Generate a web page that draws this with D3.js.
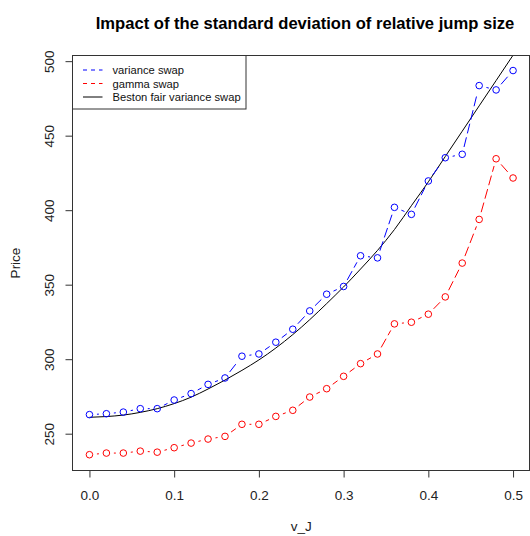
<!DOCTYPE html>
<meta charset="utf-8">
<body style="margin:0;background:#fff">
<svg width="530" height="536"></svg>
<script src="https://cdnjs.cloudflare.com/ajax/libs/d3/7.8.5/d3.min.js"></script>
<script>

// standard deviation of relative jump size
var vJ = [0, 0.02, 0.04, 0.06, 0.08, 0.10, 0.12, 0.14, 0.16, 0.18, 0.20, 0.22, 0.24,
          0.26, 0.28, 0.30, 0.32, 0.34, 0.36, 0.38, 0.40, 0.42, 0.44, 0.46, 0.48, 0.50];

var varianceSwap = [262.8, 263.4, 264.5, 266.8, 266.8, 272.6, 276.9, 283.1, 287.4, 302.0,
                    303.5, 311.4, 320.1, 332.4, 343.6, 348.8, 369.4, 368.0, 401.9, 397.2,
                    419.6, 435.2, 437.5, 483.6, 480.7, 493.7];

var gammaSwap = [235.9, 237.0, 237.0, 238.3, 237.6, 240.6, 243.7, 246.4, 248.2, 256.3,
                 256.3, 261.6, 265.7, 274.6, 280.2, 288.5, 297.0, 303.5, 323.7, 324.8,
                 330.2, 341.8, 364.5, 393.8, 434.5, 421.6];

var fairVariance = [261.0, 261.5, 262.5, 264.3, 266.8, 270.2, 274.5, 280.0, 286.0, 292.5,
                    299.5, 307.5, 316.5, 326.5, 337.3, 348.5, 360.5, 373.0, 387.0, 403.0,
                    419.0, 436.0, 453.0, 470.0, 487.0, 504.0];

var xTicks = [0, 0.1, 0.2, 0.3, 0.4, 0.5];
var yTicks = [250, 300, 350, 400, 450, 500];

var legendLabels = ["variance swap", "gamma swap", "Beston fair variance swap"];

var svg = d3.select("svg");
var font = "Liberation Sans, Arial, sans-serif";

var plotLeft = 72.5, plotRight = 530, plotTop = 55.5, plotBottom = 470.5;

var x = d3.scaleLinear().domain([-0.02, 0.52]).range([plotLeft, plotRight]);
var y = d3.scaleLinear().domain([225.3, 503.8]).range([plotBottom, plotTop]);

svg.append("defs").append("clipPath").attr("id", "plotClip")
  .append("rect")
  .attr("x", plotLeft).attr("y", plotTop)
  .attr("width", plotRight - plotLeft).attr("height", plotBottom - plotTop);

var plot = svg.append("g").attr("clip-path", "url(#plotClip)");

// fair variance curve
var fairLine = d3.line()
  .x((d, i) => x(vJ[i]))
  .y(d => y(d))
  .curve(d3.curveMonotoneX);

plot.append("path")
  .attr("d", fairLine(fairVariance))
  .attr("fill", "none")
  .attr("stroke", "#000")
  .attr("stroke-width", 1);

// points joined by dashed segments that stop short of each point
var gap = 7.5;
function drawSeries(values, color) {
  var pts = values.map((d, i) => [x(vJ[i]), y(d)]);
  var segs = [];
  for (var i = 0; i < pts.length - 1; i++) {
    var a = pts[i], b = pts[i + 1];
    var dx = b[0] - a[0], dy = b[1] - a[1];
    var len = Math.sqrt(dx * dx + dy * dy);
    if (len <= 2 * gap) continue;
    var ux = dx / len, uy = dy / len;
    segs.push([a[0] + ux * gap, a[1] + uy * gap, b[0] - ux * gap, b[1] - uy * gap]);
  }
  plot.selectAll(null).data(segs).enter().append("line")
    .attr("x1", d => d[0]).attr("y1", d => d[1])
    .attr("x2", d => d[2]).attr("y2", d => d[3])
    .attr("stroke", color)
    .attr("stroke-width", 1)
    .attr("stroke-dasharray", "10,4");
  plot.selectAll(null).data(pts).enter().append("circle")
    .attr("cx", d => d[0]).attr("cy", d => d[1])
    .attr("r", 3.3)
    .attr("fill", "none")
    .attr("stroke", color)
    .attr("stroke-width", 1);
}

drawSeries(varianceSwap, "#0000ff");
drawSeries(gammaSwap, "#ff0000");

// box round the plot region
svg.append("rect")
  .attr("x", plotLeft).attr("y", plotTop)
  .attr("width", plotRight - plotLeft - 0.5).attr("height", plotBottom - plotTop)
  .attr("fill", "none")
  .attr("stroke", "#333")
  .attr("stroke-width", 1);

// x axis
var xAxis = svg.append("g")
  .attr("transform", "translate(0," + plotBottom + ")")
  .call(d3.axisBottom(x).tickValues(xTicks).tickSize(7).tickFormat(d3.format(".1f")));
xAxis.select(".domain").remove();
xAxis.append("line")
  .attr("x1", x(xTicks[0])).attr("x2", x(xTicks[xTicks.length - 1]))
  .attr("stroke", "#333");
xAxis.selectAll(".tick line").attr("stroke", "#333");
xAxis.selectAll("text")
  .attr("y", 29.5).attr("dy", 0)
  .attr("fill", "#222")
  .style("font", "13.5px " + font);

// y axis
var yAxis = svg.append("g")
  .attr("transform", "translate(" + plotLeft + ",0)")
  .call(d3.axisLeft(y).tickValues(yTicks).tickSize(7));
yAxis.select(".domain").remove();
yAxis.append("line")
  .attr("y1", y(yTicks[0])).attr("y2", y(yTicks[yTicks.length - 1]))
  .attr("stroke", "#333");
yAxis.selectAll(".tick line").attr("stroke", "#333");
yAxis.selectAll("text")
  .attr("x", 0).attr("dy", 0)
  .attr("text-anchor", "middle")
  .attr("transform", "translate(-19,0) rotate(-90)")
  .attr("fill", "#222")
  .style("font", "13.5px " + font);

// titles
svg.append("text")
  .attr("x", 305).attr("y", 28.5)
  .attr("text-anchor", "middle")
  .style("font", "bold 16.6px " + font)
  .attr("fill", "#000")
  .text("Impact of the standard deviation of relative jump size");

svg.append("text")
  .attr("x", (plotLeft + plotRight) / 2).attr("y", 531)
  .attr("text-anchor", "middle")
  .style("font", "13.5px " + font)
  .attr("fill", "#222")
  .text("v_J");

svg.append("text")
  .attr("transform", "translate(20," + ((plotTop + plotBottom) / 2) + ") rotate(-90)")
  .attr("text-anchor", "middle")
  .style("font", "13.5px " + font)
  .attr("fill", "#222")
  .text("Price");

// legend
var legend = svg.append("g");
legend.append("rect")
  .attr("x", plotLeft).attr("y", plotTop)
  .attr("width", 173.5).attr("height", 53.5)
  .attr("fill", "#fff")
  .attr("stroke", "#333");

var legendColors = ["#0000ff", "#ff0000", "#000"];
var legendDash = ["4,4", "4,4", null];
legendLabels.forEach(function(label, i) {
  var ly = 70 + i * 13.5;
  legend.append("line")
    .attr("x1", 83).attr("x2", 102.5)
    .attr("y1", ly).attr("y2", ly)
    .attr("stroke", legendColors[i])
    .attr("stroke-dasharray", legendDash[i]);
  legend.append("text")
    .attr("x", 112.5).attr("y", ly + 4)
    .style("font", "11.2px " + font)
    .attr("fill", "#111")
    .text(label);
});

</script>
</body>
